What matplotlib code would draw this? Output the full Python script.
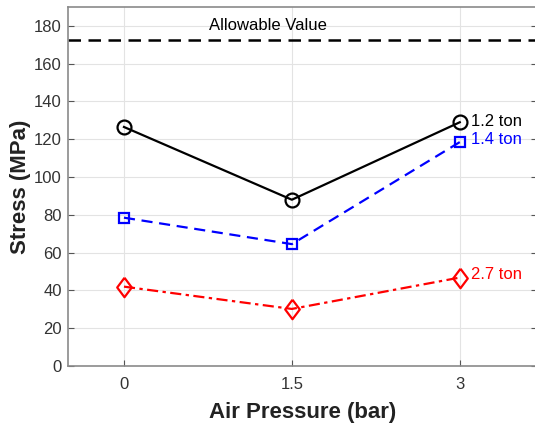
import matplotlib
matplotlib.use("Agg")
import matplotlib.pyplot as plt

plt.rcParams["font.family"] = ["Liberation Sans", "DejaVu Sans"]

pressure = [0, 1.5, 3]
stress_12 = [126.5, 88, 129]
stress_14 = [78.5, 64.5, 118.5]
stress_27 = [42, 30.2, 46.8]
allowable = 172.6

# slightly narrow diamond, like the MATLAB one
diamond = [(0, 1), (0.75, 0), (0, -1), (-0.75, 0), (0, 1)]

fig = plt.figure(figsize=(5.35, 4.25), dpi=100)
ax = fig.add_axes([68 / 535, 59 / 425, (537 - 68) / 535, (418 - 59) / 425])

ax.axhline(allowable, color="black", linestyle=(0, (5, 3)), linewidth=1.8)
ax.plot(pressure, stress_12, color="black", linestyle="-", linewidth=1.6,
        marker="o", markersize=10, markerfacecolor="none", markeredgewidth=1.6)
ax.plot(pressure, stress_14, color="blue", linestyle=(0, (5, 3)), linewidth=1.6,
        marker="s", markersize=6.5, markerfacecolor="none", markeredgewidth=1.6)
ax.plot(pressure, stress_27, color="red", linestyle=(0, (5, 2, 1.5, 2)), linewidth=1.6,
        marker=diamond, markersize=14, markerfacecolor="none", markeredgewidth=1.6)

ax.text(1.29, 180, "Allowable Value", fontsize=12, ha="center", va="center")
ax.text(3.1, 129.5, "1.2 ton", fontsize=12, color="black", va="center")
ax.text(3.1, 120, "1.4 ton", fontsize=12, color="blue", va="center")
ax.text(3.1, 48.5, "2.7 ton", fontsize=12, color="red", va="center")

ax.set_xlim(-0.5, 3.69)
ax.set_ylim(0, 190)
ax.set_xticks(pressure)
ax.set_xticklabels(["0", "1.5", "3"])
ax.set_yticks(range(0, 181, 20))
ax.tick_params(direction="in", length=4, color="#555555", labelsize=12,
               labelcolor="#333333", right=True, top=False)
ax.tick_params(axis="x", pad=8)
ax.tick_params(axis="y", pad=4.5)
ax.grid(True, color="#e3e3e3", linewidth=0.8)
ax.set_axisbelow(True)
for s in ax.spines.values():
    s.set_color("#8a8a8a")
    s.set_linewidth(1.2)

ax.set_xlabel("Air Pressure (bar)", fontsize=16, fontweight="bold", color="#222222", labelpad=7)
ax.set_ylabel("Stress (MPa)", fontsize=16, fontweight="bold", color="#222222", labelpad=2)

fig.savefig("out.png", dpi=100)
